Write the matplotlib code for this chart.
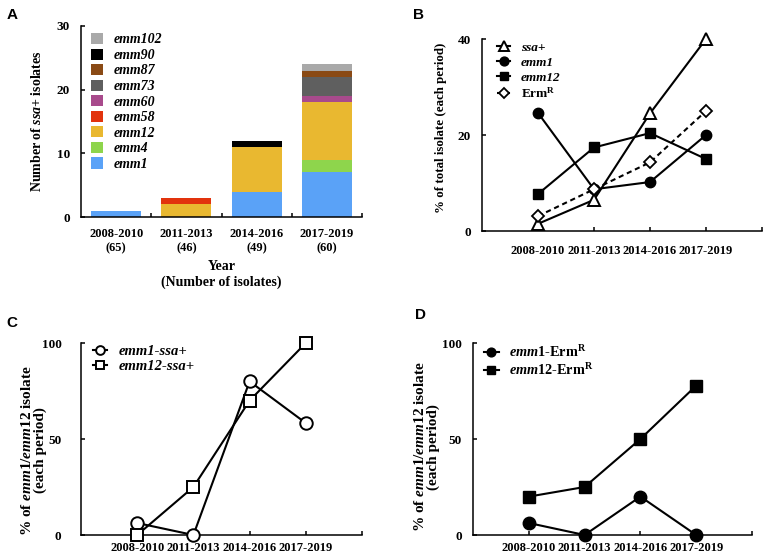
import matplotlib
matplotlib.use('Agg')
import matplotlib.pyplot as plt
import numpy as np

plt.rcParams['font.family'] = ['Liberation Serif', 'DejaVu Serif']
plt.rcParams['font.weight'] = 'bold'
plt.rcParams['mathtext.fontset'] = 'custom'
plt.rcParams['mathtext.rm'] = 'Liberation Serif:bold'
plt.rcParams['mathtext.it'] = 'Liberation Serif:italic:bold'
plt.rcParams['mathtext.bf'] = 'Liberation Serif:bold'

# panel A: stacked counts of ssa+ isolates per emm type
periods_a = ['2008-2010\n(65)', '2011-2013\n(46)', '2014-2016\n(49)', '2017-2019\n(60)']
emm_types = ['emm1', 'emm4', 'emm12', 'emm58', 'emm60', 'emm73', 'emm87', 'emm90', 'emm102']
emm_counts = {
    'emm1':   [1, 0, 4, 7],
    'emm4':   [0, 0, 0, 2],
    'emm12':  [0, 2, 7, 9],
    'emm58':  [0, 1, 0, 0],
    'emm60':  [0, 0, 0, 1],
    'emm73':  [0, 0, 0, 3],
    'emm87':  [0, 0, 0, 1],
    'emm90':  [0, 0, 1, 0],
    'emm102': [0, 0, 0, 1],
}
emm_colors = ['#5aa2f7', '#8ed54c', '#e9b830', '#e2330d', '#a84a8c',
              '#5f5f5f', '#8a4a15', '#000000', '#a9a9a9']

periods = ['2008-2010', '2011-2013', '2014-2016', '2017-2019']

# panel B: % of total isolates
b_ssa = [1.5, 6.5, 24.5, 40.0]
b_emm1 = [24.6, 8.7, 10.2, 20.0]
b_emm12 = [7.7, 17.4, 20.4, 15.0]
b_ermr = [3.1, 8.7, 14.3, 25.0]

# panel C: % ssa+ among emm1 / emm12
c_emm1_ssa = [6.25, 0.0, 80.0, 58.3]
c_emm12_ssa = [0.0, 25.0, 70.0, 100.0]

# panel D: % ErmR among emm1 / emm12
d_emm1_erm = [6.25, 0.0, 20.0, 0.0]
d_emm12_erm = [20.0, 25.0, 50.0, 77.8]

W, H = 767, 558
fig = plt.figure(figsize=(W / 100, H / 100), dpi=100)


def box(l, r, t, b):
    return (l / W, 1 - b / H, (r - l) / W, (b - t) / H)


def style_axes(ax, ypad=8, xpad=6):
    for s in ['top', 'right']:
        ax.spines[s].set_visible(False)
    for s in ['left', 'bottom']:
        ax.spines[s].set_linewidth(1.1)
    ax.tick_params(direction='in', length=3, width=1.1)
    ax.tick_params(axis='y', labelsize=9.5, pad=ypad)
    ax.tick_params(axis='x', pad=xpad)
    ax.tick_params(axis='x', which='minor', direction='in', length=3, width=1.1)


tick_font = dict(fontsize=9, fontweight='bold')
leg_it = {'style': 'italic', 'weight': 'bold', 'size': 10}

# ---- A ----
axA = fig.add_axes(box(81, 362, 26, 217))
x = np.arange(len(periods_a))
bottom = np.zeros(len(periods_a))
handles = []
for name, col in zip(emm_types, emm_colors):
    vals = np.array(emm_counts[name])
    h = axA.bar(x, vals, 0.71, bottom=bottom, color=col, label=name)
    handles.append(h)
    bottom += vals
axA.set_xlim(-0.5, 3.5)
axA.set_ylim(0, 30)
axA.set_yticks([0, 10, 20, 30])
style_axes(axA)
axA.set_xticks(x)
axA.set_xticklabels(periods_a, **tick_font)
axA.tick_params(axis='x', which='major', length=0, pad=8)
axA.set_xticks([0.5, 1.5, 2.5, 3.5], minor=True)
axA.set_ylabel(r'Number of $\it{ssa}$+ isolates', fontsize=10, fontweight='bold')
axA.yaxis.set_label_coords(-0.132, 0.5)
axA.set_xlabel('Year\n(Number of isolates)', fontsize=10, fontweight='bold')
axA.xaxis.set_label_coords(0.5, -0.225)
axA.legend(handles[::-1], [h.get_label() for h in handles[::-1]], loc='upper left',
           bbox_to_anchor=(0.01, 1.0), frameon=False, prop=leg_it,
           handlelength=0.85, handleheight=0.85, handletextpad=0.8,
           labelspacing=0.16, borderpad=0)

# ---- B ----
axB = fig.add_axes(box(482, 762, 39, 231))
xp = np.arange(4)
lw = 1.5
axB.plot(xp, b_ssa, '-', color='black', lw=lw, marker='^', ms=8, mfc='white',
         mec='black', mew=1.4, label='ssa+', clip_on=False, zorder=3)
axB.plot(xp, b_emm1, '-', color='black', lw=lw, marker='o', ms=7.5, mfc='black',
         mec='black', label='emm1', clip_on=False, zorder=3)
axB.plot(xp, b_emm12, '-', color='black', lw=lw, marker='s', ms=7.5, mfc='black',
         mec='black', label='emm12', clip_on=False, zorder=3)
axB.plot(xp, b_ermr, '--', color='black', lw=lw, dashes=(2.5, 1.8), marker='D', ms=6.5,
         mfc='white', mec='black', mew=1.3, label=r'Erm$^{\rm R}$', clip_on=False, zorder=4)
axB.set_xlim(-1, 4)
axB.set_ylim(0, 40)
axB.set_yticks([0, 20, 40])
style_axes(axB, xpad=10)
axB.set_xticks([0, 1, 2, 3, 4])
axB.set_xticklabels(periods + [''], **tick_font)
axB.set_ylabel('% of total isolate (each period)', fontsize=9.3, fontweight='bold')
axB.yaxis.set_label_coords(-0.125, 0.54)
legB = axB.legend(loc='upper left', bbox_to_anchor=(0.03, 1.02), frameon=False,
                  prop={'style': 'italic', 'weight': 'bold', 'size': 9.5},
                  handlelength=1.0, handletextpad=0.8, labelspacing=0.2, borderpad=0,
                  markerscale=0.85)
legB.get_texts()[3].set_fontstyle('normal')

ylab_cd = '% of $\\it{emm}$1/$\\it{emm}$12 isolate\n(each period)'

# ---- C ----
axC = fig.add_axes(box(81, 362, 343, 535))
axC.plot(xp, c_emm1_ssa, '-', color='black', lw=lw, marker='o', ms=9, mfc='white',
         mec='black', mew=1.4, label='emm1-ssa+', clip_on=False, zorder=3)
axC.plot(xp, c_emm12_ssa, '-', color='black', lw=lw, marker='s', ms=9, mfc='white',
         mec='black', mew=1.4, label='emm12-ssa+', clip_on=False, zorder=3)
axC.set_xlim(-1, 4)
axC.set_ylim(0, 100)
axC.set_yticks([0, 50, 100])
style_axes(axC, ypad=14, xpad=5)
axC.set_xticks([0, 1, 2, 3, 4])
axC.set_xticklabels(periods + [''], **tick_font)
axC.set_ylabel(ylab_cd, fontsize=11, fontweight='bold', linespacing=1.0)
axC.yaxis.set_label_coords(-0.121, 0.44)
axC.legend(loc='upper left', bbox_to_anchor=(0.015, 1.03), frameon=False,
           prop={'style': 'italic', 'weight': 'bold', 'size': 10.5},
           handlelength=1.0, handletextpad=0.8, labelspacing=0.15, borderpad=0,
           markerscale=0.7)

# ---- D ----
axD = fig.add_axes(box(473, 752, 343, 535))
axD.plot(xp, d_emm1_erm, '-', color='black', lw=lw, marker='o', ms=9, mfc='black',
         mec='black', label=r'$\it{emm1}$-Erm$^{\rm R}$', clip_on=False, zorder=3)
axD.plot(xp, d_emm12_erm, '-', color='black', lw=lw, marker='s', ms=9, mfc='black',
         mec='black', label=r'$\it{emm12}$-Erm$^{\rm R}$', clip_on=False, zorder=3)
axD.set_xlim(-1, 4)
axD.set_ylim(0, 100)
axD.set_yticks([0, 50, 100])
style_axes(axD, ypad=8, xpad=5)
axD.set_xticks([0, 1, 2, 3, 4])
axD.set_xticklabels(periods + [''], **tick_font)
axD.set_ylabel(ylab_cd, fontsize=11, fontweight='bold', linespacing=1.0)
axD.yaxis.set_label_coords(-0.118, 0.46)
axD.legend(loc='upper left', bbox_to_anchor=(0.015, 1.03), frameon=False, fontsize=10.3,
           handlelength=1.0, handletextpad=0.7, labelspacing=0.1, borderpad=0,
           markerscale=0.7)

# panel letters
for lab, px, py in [('A', 12, 15), ('B', 418, 15), ('C', 12, 323), ('D', 421, 315)]:
    fig.text(px / W, 1 - py / H, lab, fontsize=11, fontweight='bold',
             family='Liberation Sans', ha='center', va='center')

fig.savefig('out.png', dpi=100)
